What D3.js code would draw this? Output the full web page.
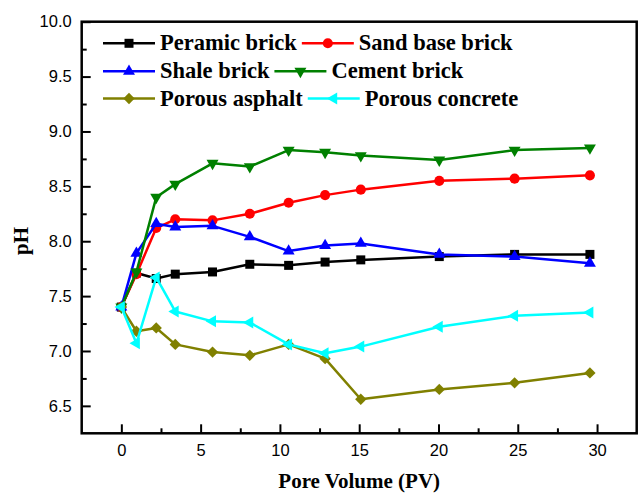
<!DOCTYPE html>
<html>
<head>
<meta charset="utf-8">
<script src="https://cdn.jsdelivr.net/npm/d3@7"></script>
<style>
    body { margin: 0; background: #fff; }
    svg { display: block; }
</style>
</head>
<body>
<svg id="chart" width="638" height="494"></svg>
<script>
// pore volume samples, shared by every series
const pv = [0, 0.95, 2.2, 3.4, 5.75, 8.1, 10.55, 12.85, 15.1, 20.05, 24.8, 29.55];

// pH readings per material
const peramic  = [7.40, 7.71, 7.66, 7.70, 7.72, 7.79, 7.78, 7.81, 7.83, 7.86, 7.88, 7.88];
const sandBase = [7.40, 7.70, 8.12, 8.20, 8.19, 8.25, 8.35, 8.42, 8.47, 8.55, 8.57, 8.60];
const shale    = [7.40, 7.89, 8.16, 8.13, 8.14, 8.04, 7.91, 7.96, 7.98, 7.88, 7.86, 7.80];
const cement   = [7.40, 7.72, 8.40, 8.52, 8.71, 8.68, 8.83, 8.81, 8.78, 8.74, 8.83, 8.85];
const asphalt  = [7.40, 7.18, 7.21, 7.06, 6.99, 6.96, 7.06, 6.93, 6.56, 6.65, 6.71, 6.80];
const concrete = [7.40, 7.07, 7.67, 7.36, 7.27, 7.26, 7.06, 6.98, 7.04, 7.22, 7.32, 7.35];

const names = ['Peramic brick', 'Sand base brick', 'Shale brick', 'Cement brick', 'Porous asphalt', 'Porous concrete'];

const xTicks = [0, 5, 10, 15, 20, 25, 30];
const xMinor = [2.5, 7.5, 12.5, 17.5, 22.5, 27.5];
const yTicks = [6.5, 7.0, 7.5, 8.0, 8.5, 9.0, 9.5, 10.0];
const yMinor = [6.75, 7.25, 7.75, 8.25, 8.75, 9.25, 9.75];

// marker style for each series: colour, symbol, rotation, size
const series = [
    { name: names[0], values: peramic,  color: '#000000', symbol: d3.symbolSquare,   rot: 0,   size: 81 },
    { name: names[1], values: sandBase, color: '#ff0000', symbol: d3.symbolCircle,   rot: 0,   size: 80 },
    { name: names[2], values: shale,    color: '#0000ff', symbol: d3.symbolTriangle, rot: 0,   size: 62 },
    { name: names[3], values: cement,   color: '#008000', symbol: d3.symbolTriangle, rot: 180, size: 62 },
    { name: names[4], values: asphalt,  color: '#808000', symbol: d3.symbolSquare,   rot: 45,  size: 64 },
    { name: names[5], values: concrete, color: '#00ffff', symbol: d3.symbolTriangle, rot: -90, size: 62 }
];

const svg = d3.select('#chart');
const margin = { top: 21.7, right: 1.3, bottom: 60.7, left: 81.7 };
const width = 638 - margin.left - margin.right;
const height = 494 - margin.top - margin.bottom;

const x = d3.scaleLinear().domain([-2.5, 32.5]).range([margin.left, margin.left + width]);
const y = d3.scaleLinear().domain([6.25, 10]).range([margin.top + height, margin.top]);

const tickFont = '"Liberation Sans", Arial, sans-serif';
const titleFont = '"Liberation Serif", "Times New Roman", serif';

// axes, ticks pointing inward
svg.append('g')
    .attr('transform', `translate(0,${margin.top + height})`)
    .call(d3.axisBottom(x).tickValues(xTicks).tickSize(-9).tickPadding(11).tickFormat(d3.format('d')));
svg.append('g')
    .attr('transform', `translate(0,${margin.top + height})`)
    .call(d3.axisBottom(x).tickValues(xMinor).tickSize(-5).tickFormat(''));

svg.append('g')
    .attr('transform', `translate(${margin.left},0)`)
    .call(d3.axisLeft(y).tickValues(yTicks).tickSize(-9).tickPadding(10).tickFormat(d3.format('.1f')));
svg.append('g')
    .attr('transform', `translate(${margin.left},0)`)
    .call(d3.axisLeft(y).tickValues(yMinor).tickSize(-5).tickFormat(''));

svg.selectAll('.domain').remove();
svg.selectAll('.tick line').attr('stroke', '#000').attr('stroke-width', 2);
svg.selectAll('.tick text')
    .attr('fill', '#000')
    .style('font-family', tickFont)
    .style('font-size', '16.5px');

// frame
svg.append('rect')
    .attr('x', margin.left)
    .attr('y', margin.top)
    .attr('width', width)
    .attr('height', height)
    .attr('fill', 'none')
    .attr('stroke', '#000')
    .attr('stroke-width', 2.5);

// axis titles
svg.append('text')
    .attr('x', margin.left + width / 2)
    .attr('y', 488)
    .attr('text-anchor', 'middle')
    .style('font-family', titleFont)
    .style('font-weight', 'bold')
    .style('font-size', '21px')
    .text('Pore Volume (PV)');

svg.append('text')
    .attr('transform', 'translate(28,241) rotate(-90)')
    .attr('text-anchor', 'middle')
    .style('font-family', titleFont)
    .style('font-weight', 'bold')
    .style('font-size', '21px')
    .text('pH');

// lines + markers
const line = d3.line()
    .x((d, i) => x(pv[i]))
    .y(d => y(d));

const plot = svg.append('g');
series.forEach(s => {
    const g = plot.append('g');
    g.append('path')
        .datum(s.values)
        .attr('d', line)
        .attr('fill', 'none')
        .attr('stroke', s.color)
        .attr('stroke-width', 2.5)
        .attr('stroke-linejoin', 'round');
    g.selectAll('path.mark')
        .data(s.values)
        .join('path')
        .attr('class', 'mark')
        .attr('d', d3.symbol(s.symbol, s.size))
        .attr('transform', (d, i) => `translate(${x(pv[i])},${y(d)}) rotate(${s.rot})`)
        .attr('fill', s.color);
});

// legend, two items per row, flowing left to right
const legend = svg.append('g');
const rowY = [43.3, 71.3, 98.5];
series.forEach((s, i) => {
    const row = Math.floor(i / 2);
    const col = i % 2;
    let x0 = 103;
    if (col === 1) {
        const prev = legend.select(`text.lt${i - 1}`).node();
        x0 = +prev.getAttribute('x') + prev.getComputedTextLength() + 5;
    }
    const cy = rowY[row];
    legend.append('line')
        .attr('x1', x0).attr('x2', x0 + 52)
        .attr('y1', cy).attr('y2', cy)
        .attr('stroke', s.color)
        .attr('stroke-width', 2.5);
    legend.append('path')
        .attr('d', d3.symbol(s.symbol, s.size))
        .attr('transform', `translate(${x0 + 26},${cy}) rotate(${s.rot})`)
        .attr('fill', s.color);
    legend.append('text')
        .attr('class', `lt${i}`)
        .attr('x', x0 + 57)
        .attr('y', cy + 7)
        .style('font-family', titleFont)
        .style('font-weight', 'bold')
        .style('font-size', '22.5px')
        .text(s.name);
});
</script>
</body>
</html>
